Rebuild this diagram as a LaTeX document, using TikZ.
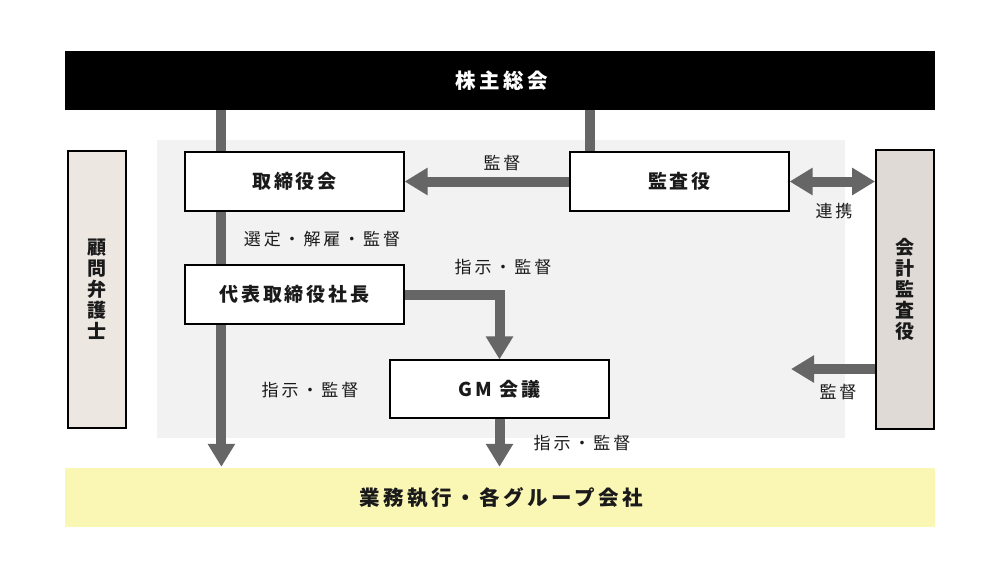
\documentclass[tikz,border=0pt]{standalone}
\usepackage{fontspec}
\newfontfamily\jp{Noto Sans CJK JP}
\usetikzlibrary{arrows.meta}
\pgfdeclarelayer{panel}
\pgfdeclarelayer{bg}
\pgfsetlayers{panel,bg,main}
\definecolor{arrowgray}{HTML}{666666}
\definecolor{panelgray}{HTML}{F2F2F2}
\definecolor{lawyerfill}{HTML}{EDE7E1}
\definecolor{kkfill}{HTML}{DFDAD5}
\definecolor{yellowbar}{HTML}{FAF6B4}
\definecolor{ink}{HTML}{1A1A1A}
\tikzset{
  barbox/.style={minimum width=870, minimum height=59, inner sep=0,
    font=\jp\bfseries\fontsize{20.5}{24}\selectfont\addfontfeature{LetterSpace=17}},
  orgbox/.style={draw=black, line width=1.2, fill=white, minimum width=219,
    minimum height=59, inner sep=0, text=ink,
    font=\jp\bfseries\fontsize{19}{22}\selectfont\addfontfeature{LetterSpace=15}},
  sidebox/.style={draw=black, line width=1.8, minimum width=58, inner sep=0,
    align=center, text=ink,
    font=\jp\bfseries\fontsize{19}{21}\selectfont},
  lbl/.style={inner sep=0, text=ink,
    font=\jp\fontsize{17}{20}\selectfont\addfontfeature{LetterSpace=17}},
  arr/.style={draw=arrowgray, line width=10, -{Triangle[width=26pt,length=23pt]}},
  dblarr/.style={draw=arrowgray, line width=10,
    {Triangle[width=26pt,length=23pt]}-{Triangle[width=26pt,length=23pt]}},
  plainline/.style={draw=arrowgray, line width=10}
}
\begin{document}
\begin{tikzpicture}[x=1pt,y=-1pt]
\useasboundingbox (0,0) rectangle (1000,582);
% nodes
\node[barbox, fill=black, text=white] (top) at (500,80.5) {\hspace{3pt}株主総会};
\node[barbox, fill=yellowbar, text=ink] (bot) at (500,497.5) {\hspace{3pt}業務執行・各グループ会社};
\node[sidebox, fill=lawyerfill, minimum height=277] (law) at (97,289.5) {顧\\問\\弁\\護\\士};
\node[sidebox, fill=kkfill, minimum height=279] (kk) at (905,289.5) {会\\計\\監\\査\\役};
\node[orgbox] (trb) at (294.5,181.5) {取締役会};
\node[orgbox] (aud) at (679.5,181.5) {監査役};
\node[orgbox] (ceo) at (294.5,294.5) {代表取締役社長};
\node[orgbox, minimum height=58] (gm) at (499.5,389) {GM 会議};
% labels
\node[lbl] (l1) at (502,163) {監督};
\node[lbl] (l2) at (834,211) {連携};
\node[lbl] (l3) at (322,239) {選定・解雇・監督};
\node[lbl] (l4) at (503,267) {指示・監督};
\node[lbl] (l5) at (310,390) {指示・監督};
\node[lbl] (l6) at (582,443) {指示・監督};
\node[lbl] (l7) at (838,392) {監督};
\coordinate (kkend) at (791,369);
% panel
\begin{pgfonlayer}{panel}
\fill[panelgray] (157,140) rectangle (845,438);
\end{pgfonlayer}
% connectors
\begin{pgfonlayer}{bg}
\draw[arr] ([xshift=37]top.south -| trb.west) -- ([xshift=37,yshift=1]bot.north -| trb.west);
\draw[plainline] ([xshift=21]top.south -| aud.west) -- ([xshift=21]aud.north west);
\draw[arr] (aud.west) -- (trb.east);
\draw[dblarr] (aud.east) -- (aud.east -| kk.west);
\draw[arr] (ceo.east) -| (gm.north);
\draw[arr] (gm.south) -- ([yshift=1]gm.south |- bot.north);
\draw[arr] (kk.west |- kkend) -- (kkend);
\end{pgfonlayer}
\end{tikzpicture}
\end{document}
